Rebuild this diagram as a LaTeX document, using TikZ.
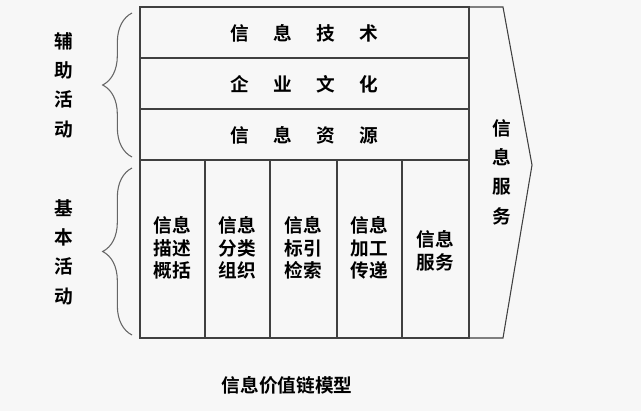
\documentclass[tikz,border=0pt]{standalone}
\usepackage{fontspec}
\setmainfont{Noto Sans CJK SC}[BoldFont={Noto Sans CJK SC Bold}]
\usetikzlibrary{decorations.pathreplacing}
\begin{document}
\begin{tikzpicture}[x=0.75pt,y=-0.75pt,
  ln/.style={draw=black!75,line width=0.8pt},
  rowtxt/.style={font=\fontsize{14}{15}\selectfont\bfseries},
  coltxt/.style={font=\fontsize{14}{17}\selectfont\bfseries,align=center},
  side/.style={font=\fontsize{14}{22}\selectfont\bfseries,align=center},
  br/.style={draw=black!60,line width=0.8pt,decorate,decoration={brace,amplitude=22pt,aspect=0.5}}]
\fill[white!97!black] (0,0) rectangle (641,411);
\useasboundingbox (0,0) rectangle (641,411);
\draw[ln] (140,7) rectangle (469,338);
\draw[ln] (140,58) -- (469,58) (140,109) -- (469,109) (140,160) -- (469,160);
\foreach \x in {205,270,337,402} \draw[ln] (\x,160) -- (\x,338);
\draw[ln] (469,7) -- (503,7) -- (532,165) -- (503,338) -- (469,338);
\node[rowtxt] (r1) at (304.5,33) {信\hspace{1.3em}息\hspace{1.3em}技\hspace{1.3em}术};
\node[rowtxt] (r2) at (304.5,84) {企\hspace{1.3em}业\hspace{1.3em}文\hspace{1.3em}化};
\node[rowtxt] (r3) at (304.5,135) {信\hspace{1.3em}息\hspace{1.3em}资\hspace{1.3em}源};
\node[coltxt] (c1) at (172.5,248) {信息\\描述\\概括};
\node[coltxt] (c2) at (237.5,248) {信息\\分类\\组织};
\node[coltxt] (c3) at (303.5,248) {信息\\标引\\检索};
\node[coltxt] (c4) at (369.5,248) {信息\\加工\\传递};
\node[coltxt] (c5) at (435.5,251) {信息\\服务};
\node[side] (sv) at (502,172) {信\\息\\服\\务};
\node[side] (a1) at (64,85) {辅\\助\\活\\动};
\node[side] (a2) at (64,252) {基\\本\\活\\动};
\coordinate (b1t) at (132,13); \coordinate (b1b) at (132,157);
\coordinate (b2t) at (132,168); \coordinate (b2b) at (132,335);
\draw[br] (b1b) -- (b1t);
\draw[br] (b2b) -- (b2t);
\node[font=\fontsize{14}{15}\selectfont\bfseries] (title) at (287,385) {信息价值链模型};
\end{tikzpicture}
\end{document}
